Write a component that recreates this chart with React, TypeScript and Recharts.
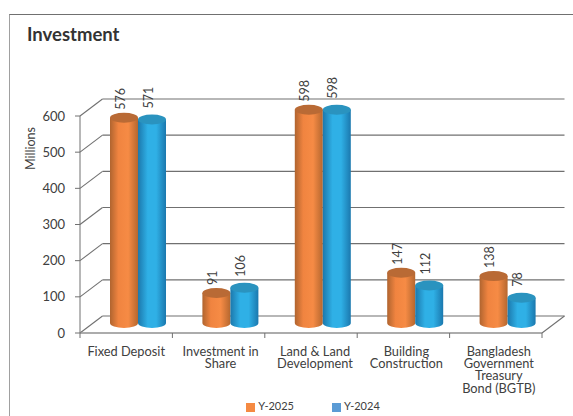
import { Bar, BarChart, CartesianGrid, LabelList, Legend, XAxis, YAxis } from "recharts";

const categories = [
  "Fixed Deposit",
  "Investment in\nShare",
  "Land & Land\nDevelopment",
  "Building\nConstruction",
  "Bangladesh\nGovernment\nTreasury\nBond (BGTB)",
];
const y2025 = [576, 91, 598, 147, 138];
const y2024 = [571, 106, 598, 112, 78];
const yTicks = [0, 100, 200, 300, 400, 500, 600];

const rows = categories.map((name, i) => ({ name, y2025: y2025[i], y2024: y2024[i] }));

const WIDTH = 573;
const HEIGHT = 416;
const PLOT_LEFT = 80;
const PLOT_RIGHT = 31;
const PLOT_TOP = 116;
const BAND = (WIDTH - PLOT_LEFT - PLOT_RIGHT) / categories.length;

// depth of the fake 3D floor
const DEPTH_X = 22.5;
const DEPTH_Y = 17;
// cylinders stand in the middle of the floor
const BAR_SHIFT_X = 12;
const TOP_LIFT = 7;
const BASE_LIFT = 10;
const RY = 5;
// category captions drift right with the perspective
const CAPTION_NUDGE = [0, 2, 4, 3, 3];

const FONT = "Lato, Carlito, sans-serif";
const TEXT = "#404040";
const GRID = "#707070";

function Cylinder(props: any) {
  const { x, y, width, height, gradient, cap } = props;
  const left = x + BAR_SHIFT_X;
  const rx = width / 2;
  const top = y - TOP_LIFT;
  const bottom = y + height - BASE_LIFT;
  const body = `M${left},${top} L${left},${bottom} A${rx},${RY} 0 0 0 ${left + width},${bottom} L${left + width},${top} Z`;
  return (
    <g>
      <path d={body} fill={`url(#${gradient})`} />
      <ellipse cx={left + rx} cy={top} rx={rx} ry={RY} fill={cap} />
    </g>
  );
}

function ValueLabel(props: any) {
  const { x, y, width, value, gap } = props;
  const cx = x + width / 2 + BAR_SHIFT_X - 4;
  const cy = y - TOP_LIFT - RY - gap;
  return (
    <text
      transform={`translate(${cx},${cy}) rotate(-90)`}
      dominantBaseline="central"
      fontFamily={FONT}
      fontSize={12.5}
      fill={TEXT}
    >
      {value}
    </text>
  );
}

function CategoryTick(props: any) {
  const { x, y, payload, index } = props;
  const lines = String(payload.value).split("\n");
  const left = x - BAND / 2;
  const cx = x + CAPTION_NUDGE[index];
  return (
    <g>
      <line x1={left} y1={y - 8} x2={left} y2={y - 3} stroke={GRID} />
      {index === categories.length - 1 && (
        <line x1={left + BAND} y1={y - 8} x2={left + BAND} y2={y - 3} stroke={GRID} />
      )}
      <text textAnchor="middle" fontFamily={FONT} fontSize={12.8} fill={TEXT}>
        {lines.map((line, i) => (
          <tspan key={i} x={cx} y={y + 15 + i * 12.2}>
            {line}
          </tspan>
        ))}
      </text>
    </g>
  );
}

// each grid level: side wall diagonal plus the back wall line
function GridLevel(props: any) {
  const { x1, x2, y1 } = props;
  return (
    <g stroke={GRID} strokeWidth={1.1} fill="none">
      <line x1={x1} y1={y1} x2={x1 + DEPTH_X} y2={y1 - DEPTH_Y} />
      <line x1={x1 + DEPTH_X} y1={y1 - DEPTH_Y} x2={x2 + DEPTH_X} y2={y1 - DEPTH_Y} />
      {y1 >= 330 ? <line x1={x2} y1={y1} x2={x2 + DEPTH_X} y2={y1 - DEPTH_Y} /> : null}
    </g>
  );
}

const legendText = (value: string) => (
  <span style={{ color: TEXT, marginRight: 28, marginLeft: -1 }}>{value}</span>
);

export default function App() {
  return (
    <div style={{ position: "absolute", left: 0, top: 0, width: WIDTH, height: HEIGHT, overflow: "hidden", background: "#fff" }}>
      <div
        style={{
          position: "absolute",
          left: 9,
          top: 14,
          width: WIDTH,
          height: HEIGHT,
          borderTop: "1px solid #707070",
          borderLeft: "1px solid #a0a0a0",
        }}
      />
      <div
        style={{
          position: "absolute",
          left: 27,
          top: 23,
          fontFamily: FONT,
          fontWeight: 700,
          fontSize: 18.5,
          lineHeight: "22px",
          color: "#333",
        }}
      >
        Investment
      </div>
      <div style={{ position: "absolute", left: 0, top: 0 }}>
        <BarChart
          width={WIDTH}
          height={HEIGHT}
          data={rows}
          barSize={28}
          barGap={0}
          margin={{ top: PLOT_TOP, right: PLOT_RIGHT, bottom: 0, left: 0 }}
        >
          <defs>
            <linearGradient id="orangeBody" x1="0" y1="0" x2="1" y2="0">
              <stop offset="0%" stopColor="#b0642f" />
              <stop offset="30%" stopColor="#f08440" />
              <stop offset="65%" stopColor="#f68b45" />
              <stop offset="100%" stopColor="#b5672f" />
            </linearGradient>
            <linearGradient id="blueBody" x1="0" y1="0" x2="1" y2="0">
              <stop offset="0%" stopColor="#1c78ac" />
              <stop offset="35%" stopColor="#2fb0e6" />
              <stop offset="65%" stopColor="#2fb0e6" />
              <stop offset="100%" stopColor="#1b78ae" />
            </linearGradient>
          </defs>
          <CartesianGrid vertical={false} horizontal={(p: any) => <GridLevel key={p.index} {...p} />} />
          <XAxis
            dataKey="name"
            height={70}
            interval={0}
            axisLine={{ stroke: "#909090", strokeWidth: 1.5 }}
            tickLine={false}
            tick={(p: any) => <CategoryTick {...p} />}
          />
          <YAxis
            width={PLOT_LEFT}
            domain={[0, 600]}
            ticks={yTicks}
            interval={0}
            axisLine={{ stroke: GRID }}
            tickLine={{ stroke: GRID }}
            tickSize={5}
            tickMargin={10}
            tick={{ fontFamily: FONT, fontSize: 13, fill: TEXT }}
            label={{
              value: "Millions",
              angle: -90,
              position: "insideLeft",
              dx: 26,
              dy: -76,
              style: { fontFamily: FONT, fontSize: 12.5, fill: TEXT, textAnchor: "middle" },
            }}
          />
          <Legend
            verticalAlign="bottom"
            iconType="square"
            iconSize={9}
            itemSorter={null}
            formatter={legendText}
            wrapperStyle={{ fontFamily: FONT, fontSize: 11, bottom: 4, left: 61 }}
          />
          <Bar
            dataKey="y2025"
            name="Y-2025"
            fill="#f58a42"
            isAnimationActive={false}
            shape={(p: any) => <Cylinder {...p} gradient="orangeBody" cap="#b96a35" />}
          >
            <LabelList dataKey="y2025" content={(p: any) => <ValueLabel {...p} gap={3} />} />
          </Bar>
          <Bar
            dataKey="y2024"
            name="Y-2024"
            fill="#5b9bd5"
            isAnimationActive={false}
            shape={(p: any) => <Cylinder {...p} gradient="blueBody" cap="#2a93bf" />}
          >
            <LabelList dataKey="y2024" content={(p: any) => <ValueLabel {...p} gap={6} />} />
          </Bar>
        </BarChart>
      </div>
    </div>
  );
}
